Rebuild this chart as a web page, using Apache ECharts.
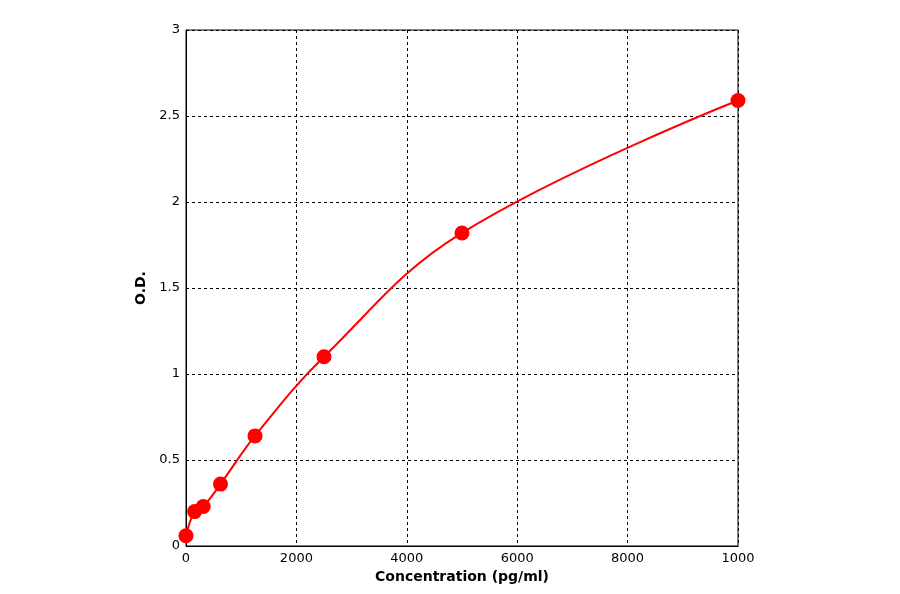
<!DOCTYPE html>
<html>
<head>
<meta charset="utf-8">
<script src="https://cdn.jsdelivr.net/npm/echarts@6/dist/echarts.min.js"></script>
<style>html,body{margin:0;background:#fff}#c{width:900px;height:594px}</style>
</head>
<body>
<div id="c"></div>
<script>
// standard curve points
const concentration = [0, 156, 312, 625, 1250, 2500, 5000, 10000]
const od = [0.06, 0.2, 0.23, 0.36, 0.64, 1.1, 1.82, 2.59]
// tick labels as printed (last one is clipped in the original)
const xTickLabels = ['0', '2000', '4000', '6000', '8000', '1000']
const yTickLabels = ['0', '0.5', '1', '1.5', '2', '2.5', '3']

const chart = echarts.init(document.getElementById('c'))
const dashed = { show: true, lineStyle: { color: '#000', type: [3, 3], width: 1 } }
chart.setOption({
  animation: false,
  grid: { left: 186, right: 162, top: 30, bottom: 48, show: true, borderColor: '#000', borderWidth: 1 },
  xAxis: {
    type: 'value', min: 0, max: 10000, interval: 2000,
    name: 'Concentration (pg/ml)', nameLocation: 'middle', nameGap: 24,
    nameTextStyle: { fontWeight: 'bold', fontSize: 14, color: '#000', fontFamily: 'DejaVu Sans' },
    axisLine: { lineStyle: { color: '#000' } },
    axisTick: { show: false },
    axisLabel: { color: '#000', fontSize: 13, fontFamily: 'DejaVu Sans', margin: 6,
      formatter: (v) => xTickLabels[Math.round(v / 2000)] },
    splitLine: dashed
  },
  yAxis: {
    type: 'value', min: 0, max: 3, interval: 0.5,
    name: 'O.D.', nameLocation: 'middle', nameGap: 30,
    nameTextStyle: { fontWeight: 'bold', fontSize: 14, color: '#000', fontFamily: 'DejaVu Sans' },
    axisLine: { lineStyle: { color: '#000' } },
    axisTick: { show: false },
    axisLabel: { color: '#000', fontSize: 13, fontFamily: 'DejaVu Sans', margin: 6,
      formatter: (v) => yTickLabels[Math.round(v / 0.5)] },
    splitLine: dashed
  },
  series: [{
    type: 'line',
    smooth: 0.4,
    data: concentration.map((c, i) => [c, od[i]]),
    symbol: 'circle', symbolSize: 15,
    lineStyle: { color: '#ff0000', width: 2 },
    itemStyle: { color: '#ff0000' }
  }]
})
</script>
</body>
</html>
